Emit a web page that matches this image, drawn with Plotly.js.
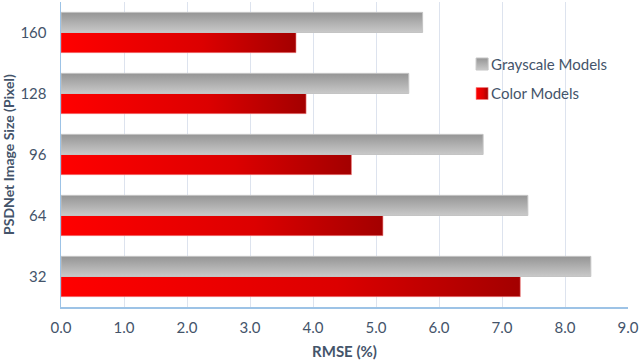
<!DOCTYPE html>
<html>
<head>
<meta charset="utf-8">
<script src="https://cdn.plot.ly/plotly-3.0.1.min.js"></script>
<style>
  html, body { margin: 0; padding: 0; background: #ffffff; }
  #chart { width: 640px; height: 360px; }
</style>
</head>
<body>
<!-- gradient fills for the bars, referenced after plotting -->
<svg width="0" height="0" style="position:absolute">
  <defs>
    <linearGradient id="gradRed" x1="0" y1="0" x2="1" y2="0">
      <stop offset="0" stop-color="#ff0000"/>
      <stop offset="0.6" stop-color="#dc0000"/>
      <stop offset="1" stop-color="#a30000"/>
    </linearGradient>
    <linearGradient id="gradGray" x1="0" y1="0" x2="0" y2="1">
      <stop offset="0" stop-color="#959595"/>
      <stop offset="1" stop-color="#c9c9c9"/>
    </linearGradient>
  </defs>
</svg>
<div id="chart"></div>
<script>
var sizes = ['32', '64', '96', '128', '160'];
var grayRmse = [8.41, 7.41, 6.70, 5.52, 5.74];
var colorRmse = [7.29, 5.11, 4.61, 3.89, 3.73];

var fontFamily = 'Lato, "Open Sans", sans-serif';
var textColor = '#44546a';

// red first so that it sits below the gray bar inside each group
var colorModels = {
  name: 'Color Models',
  type: 'bar',
  orientation: 'h',
  x: colorRmse,
  y: sizes,
  legendgroup: 'color',
  legendrank: 2,
  marker: {
    color: '#e00000',
    line: { color: '#f08080', width: 0.6 },
  },
  hoverinfo: 'skip',
};

var grayModels = {
  name: 'Grayscale Models',
  type: 'bar',
  orientation: 'h',
  x: grayRmse,
  y: sizes,
  legendgroup: 'gray',
  legendrank: 1,
  marker: {
    color: '#b0b0b0',
    line: { color: '#c4c4c4', width: 1 },
  },
  hoverinfo: 'skip',
};

var layout = {
  width: 640,
  height: 360,
  margin: { l: 61, r: 12, t: 2, b: 53 },
  paper_bgcolor: '#ffffff',
  plot_bgcolor: '#ffffff',
  barmode: 'group',
  bargap: 0.34,
  bargroupgap: 0,
  font: { family: fontFamily, size: 15, color: textColor },
  showlegend: true,
  legend: {
    x: 0.688,
    y: 0.85,
    xanchor: 'left',
    yanchor: 'top',
    bgcolor: 'rgba(0,0,0,0)',
    font: { size: 15, color: textColor },
    traceorder: 'grouped',
    tracegroupgap: 7,
    itemwidth: 30,
  },
  xaxis: {
    range: [0, 9],
    dtick: 1,
    tickformat: '.1f',
    showgrid: true,
    gridcolor: '#dde3ee',
    gridwidth: 1,
    zeroline: false,
    showline: true,
    linecolor: '#9dc3e6',
    linewidth: 1.5,
    ticks: '',
    ticklabelstandoff: 6,
    tickfont: { size: 15, color: textColor },
    title: {
      text: '<b>RMSE (%)</b>',
      font: { size: 15, color: textColor },
      standoff: 12,
    },
  },
  yaxis: {
    type: 'category',
    categoryorder: 'array',
    categoryarray: sizes,
    showgrid: false,
    zeroline: false,
    showline: true,
    linecolor: '#9dc3e6',
    linewidth: 1.5,
    ticks: '',
    ticklabelstandoff: 10,
    tickfont: { size: 15, color: textColor },
    title: {
      text: '<b>PSDNet Image Size (Pixel)</b>',
      font: { size: 14, color: textColor },
      standoff: 8,
    },
  },
};

function applyGradients(gd) {
  var traces = gd.querySelectorAll('.barlayer .trace');
  var fills = ['url(#gradRed)', 'url(#gradGray)'];
  traces.forEach(function (tr, i) {
    tr.querySelectorAll('path').forEach(function (p) {
      p.style.fill = fills[i];
    });
  });
  gd.querySelectorAll('.legend .traces').forEach(function (lt) {
    var isGray = lt.textContent.indexOf('Gray') === 0;
    var pts = lt.querySelector('.legendpoints');
    if (pts) pts.setAttribute('transform', 'translate(11,0)');
    lt.querySelectorAll('.legendpoints path').forEach(function (p) {
      p.style.fill = isGray ? 'url(#gradGray)' : 'url(#gradRed)';
    });
  });
}

Plotly.newPlot('chart', [colorModels, grayModels], layout, { staticPlot: true }).then(function (gd) {
  applyGradients(gd);
  gd.on('plotly_afterplot', function () { applyGradients(gd); });
});
</script>
</body>
</html>
